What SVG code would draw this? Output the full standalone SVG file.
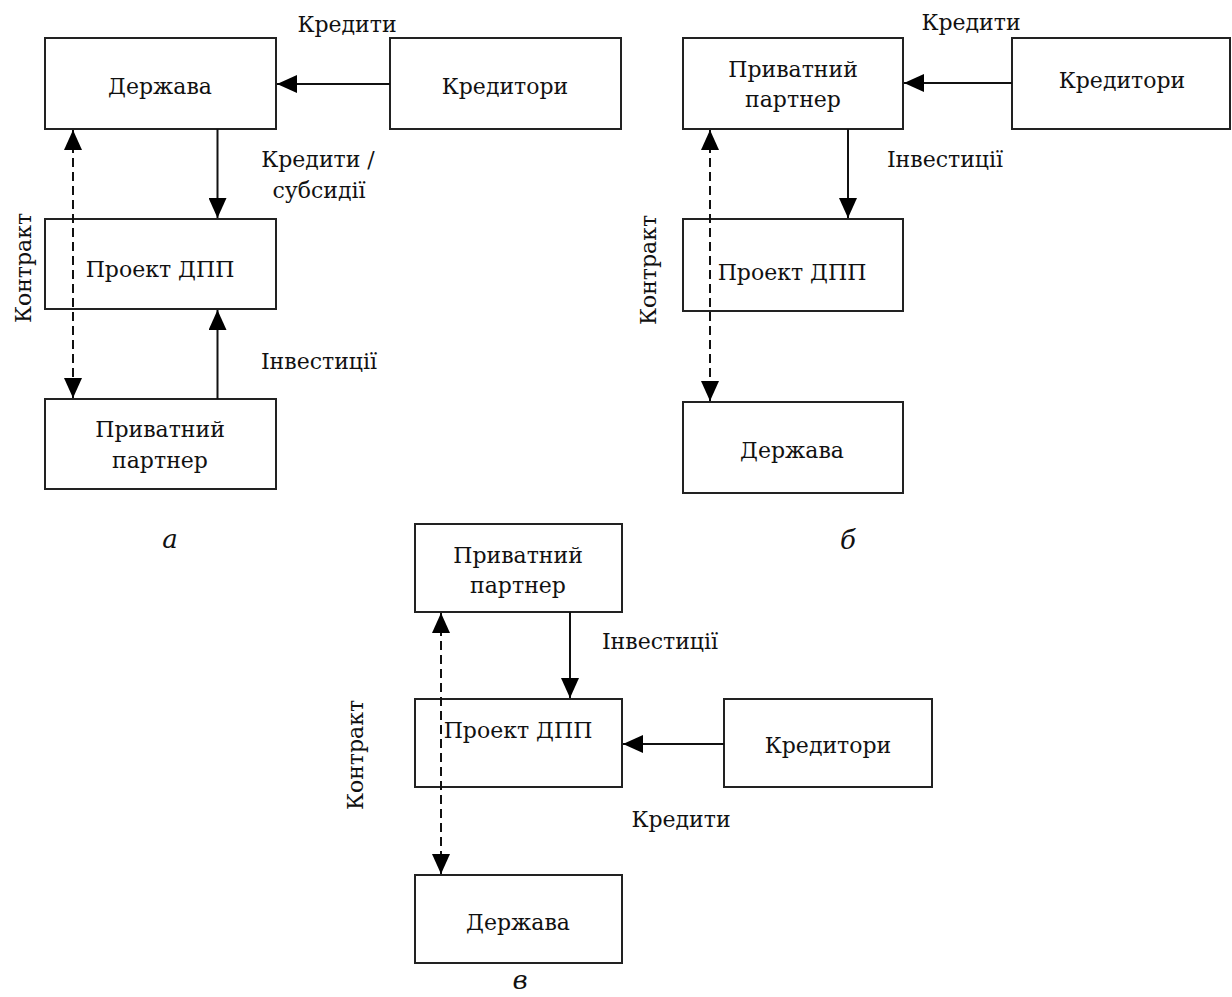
<svg xmlns="http://www.w3.org/2000/svg" width="1232" height="997" viewBox="0 0 1232 997">
<style>
rect.box{fill:#fff;stroke:#222;stroke-width:2}
text{font-family:'DejaVu Serif',serif;font-size:22px;fill:#111;text-anchor:middle}
text.cap{font-style:italic;font-size:26px}
.ln{stroke:#111;stroke-width:2;fill:none}
.dash{stroke-dasharray:9,5}
</style>
<defs>
<marker id="ah" markerUnits="userSpaceOnUse" markerWidth="20" markerHeight="18" refX="20" refY="9" orient="auto-start-reverse">
<path d="M0,0 L20,9 L0,18 z" fill="#000"/>
</marker>
</defs>
<rect width="1232" height="997" fill="#fff"/>

<!-- Diagram a -->
<g id="a-derzhava"><rect class="box" x="45" y="38" width="231" height="91"/><text x="160" y="94">Держава</text></g>
<g id="a-kredytory"><rect class="box" x="390" y="38" width="231" height="91"/><text x="505" y="94">Кредитори</text></g>
<g id="a-proekt"><rect class="box" x="45" y="219" width="231" height="90"/><text x="160" y="277">Проект ДПП</text></g>
<g id="a-pryvatnyi"><rect class="box" x="45" y="399" width="231" height="90"/><text x="160" y="437">Приватний</text><text x="160" y="468">партнер</text></g>

<!-- Diagram b -->
<g id="b-pryvatnyi"><rect class="box" x="683" y="38" width="220" height="91"/><text x="793" y="77">Приватний</text><text x="793" y="107">партнер</text></g>
<g id="b-kredytory"><rect class="box" x="1012" y="38" width="218" height="91"/><text x="1122" y="88">Кредитори</text></g>
<g id="b-proekt"><rect class="box" x="683" y="219" width="220" height="92"/><text x="792" y="280">Проект ДПП</text></g>
<g id="b-derzhava"><rect class="box" x="683" y="402" width="220" height="91"/><text x="792" y="458">Держава</text></g>

<!-- Diagram c -->
<g id="c-pryvatnyi"><rect class="box" x="415" y="524" width="207" height="88"/><text x="518" y="563">Приватний</text><text x="518" y="593">партнер</text></g>
<g id="c-proekt"><rect class="box" x="415" y="699" width="207" height="88"/><text x="518" y="738">Проект ДПП</text></g>
<g id="c-kredytory"><rect class="box" x="724" y="699" width="208" height="88"/><text x="828" y="753">Кредитори</text></g>
<g id="c-derzhava"><rect class="box" x="415" y="875" width="207" height="88"/><text x="518" y="930">Держава</text></g>

<g id="connectors">
<line class="ln" x1="390" y1="84" x2="277" y2="84" marker-end="url(#ah)"/>
<line class="ln" x1="217.5" y1="129" x2="217.5" y2="218" marker-end="url(#ah)"/>
<line class="ln" x1="217.5" y1="399" x2="217.5" y2="310" marker-end="url(#ah)"/>
<line class="ln dash" x1="73" y1="130" x2="73" y2="398" marker-start="url(#ah)" marker-end="url(#ah)"/>

<line class="ln" x1="1012" y1="83" x2="904" y2="83" marker-end="url(#ah)"/>
<line class="ln" x1="848" y1="129" x2="848" y2="218" marker-end="url(#ah)"/>
<line class="ln dash" x1="710" y1="130" x2="710" y2="401" marker-start="url(#ah)" marker-end="url(#ah)"/>

<line class="ln" x1="570" y1="612" x2="570" y2="698" marker-end="url(#ah)"/>
<line class="ln" x1="724" y1="744" x2="623" y2="744" marker-end="url(#ah)"/>
<line class="ln dash" x1="441" y1="613" x2="441" y2="874" marker-start="url(#ah)" marker-end="url(#ah)"/>
</g>

<g id="labels">
<text x="347" y="32">Кредити</text>
<text x="318" y="167">Кредити /</text>
<text x="319" y="198">субсидії</text>
<text x="319" y="369">Інвестиції</text>
<text transform="translate(31,268) rotate(-90)">Контракт</text>
<text class="cap" x="170" y="548">а</text>

<text x="971" y="30">Кредити</text>
<text x="945" y="167">Інвестиції</text>
<text transform="translate(656,270) rotate(-90)">Контракт</text>
<text class="cap" x="848" y="549">б</text>

<text x="660" y="649">Інвестиції</text>
<text x="681" y="827">Кредити</text>
<text transform="translate(363,755) rotate(-90)">Контракт</text>
<text class="cap" x="520" y="989">в</text>
</g>
</svg>
